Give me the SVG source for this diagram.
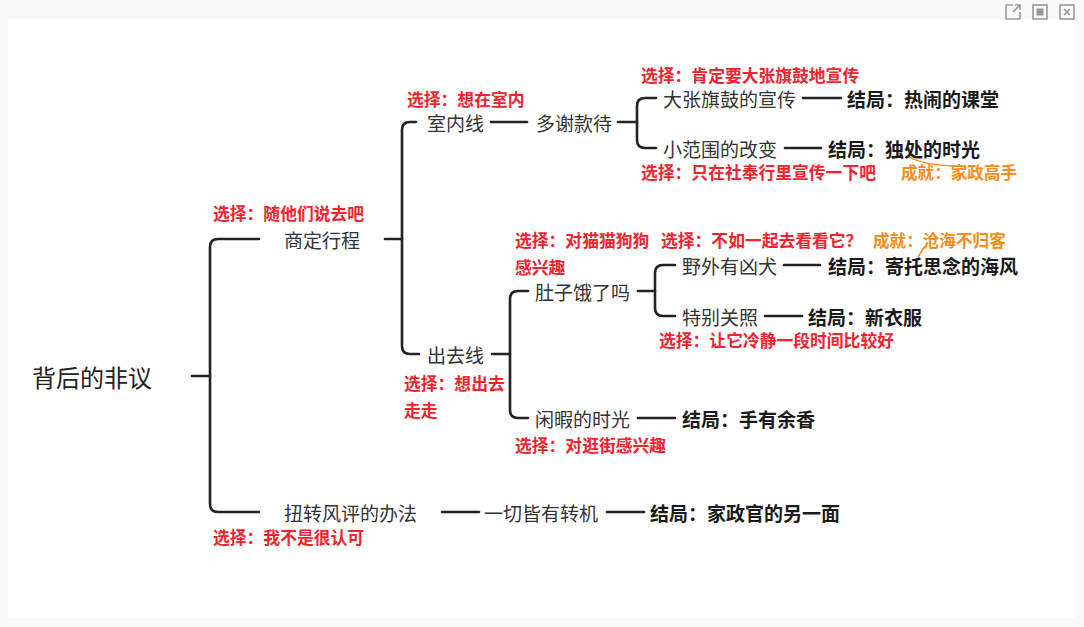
<svg xmlns="http://www.w3.org/2000/svg" width="1084" height="627" viewBox="0 0 1084 627">
<style>
text{font-family:"Noto Sans CJK SC","Noto Sans",sans-serif;dominant-baseline:central}
.n{font-size:19px;fill:#333}
.r{font-size:19px;fill:#1a1a1a;font-weight:bold}
.c{font-size:16.8px;fill:#f5222d;font-weight:bold}
.a{font-size:16.6px;fill:#fa8c16;font-weight:bold}
.l{fill:none;stroke:#222;stroke-width:2.6;stroke-linecap:round}
.o{fill:none;stroke:#fa8c16;stroke-width:1.5}
.ic{fill:none;stroke:#999;stroke-width:1.6}
</style>
<rect width="1084" height="627" fill="#f9f9f9"/>
<rect x="8" y="19" width="1067" height="599" fill="#fff"/>
<g id="toolbar">
<path class="ic" d="M1013,5H1006V19H1020V12M1013,12L1020,5M1015,5H1020V10"/>
<rect class="ic" x="1033" y="5" width="14" height="14"/>
<rect x="1036.5" y="8.5" width="7" height="7" fill="#999"/>
<rect class="ic" x="1060" y="5" width="14" height="14"/>
<path class="ic" d="M1064,9L1070,15M1070,9L1064,15"/>
</g>
<g id="connectors">
<path class="l" d="M192,376H210"/>
<path class="l" d="M259,239H218Q210,239 210,247V504Q210,512 218,512H259"/>
<path class="l" d="M385,239H402"/>
<path class="l" d="M416,122H410Q402,122 402,130V346Q402,354 410,354H419"/>
<path class="l" d="M491,122H527"/>
<path class="l" d="M618,122H637"/>
<path class="l" d="M656,98H645Q637,98 637,106V140Q637,148 645,148H656"/>
<path class="l" d="M803,98H841"/>
<path class="l" d="M785,148H821"/>
<path class="l" d="M492,354H510"/>
<path class="l" d="M528,291H518Q510,291 510,299V410Q510,418 518,418H528"/>
<path class="l" d="M638,291H655"/>
<path class="l" d="M675,265H663Q655,265 655,273V308Q655,316 663,316H675"/>
<path class="l" d="M784,265H820"/>
<path class="l" d="M765,316H802"/>
<path class="l" d="M638,418H675"/>
<path class="l" d="M442,512H479"/>
<path class="l" d="M607,512H644"/>
<path class="o" d="M907,155Q918,164 952,166"/>
<path class="o" d="M925,246L918,257"/>
</g>
<g id="root"><text x="32" y="376" style="font-size:24px;fill:#222">背后的非议</text></g>
<g id="n-shangding"><text class="n" x="284" y="239">商定行程</text><text class="c" x="213" y="213">选择：随他们说去吧</text></g>
<g id="n-shinei"><text class="n" x="427" y="122">室内线</text><text class="c" x="407" y="99">选择：想在室内</text></g>
<g id="n-duoxie"><text class="n" x="536" y="122">多谢款待</text></g>
<g id="n-dazhang"><text class="n" x="663" y="98">大张旗鼓的宣传</text><text class="c" x="641" y="75">选择：肯定要大张旗鼓地宣传</text></g>
<g id="e-renao"><text class="r" x="847" y="98">结局：热闹的课堂</text></g>
<g id="n-xiaofanwei"><text class="n" x="663" y="148">小范围的改变</text><text class="c" x="641" y="172">选择：只在社奉行里宣传一下吧</text></g>
<g id="e-duchu"><text class="r" x="828" y="148">结局：独处的时光</text><text class="a" x="901" y="172">成就：家政高手</text></g>
<g id="n-chuqu"><text class="n" x="427" y="354">出去线</text><text class="c" x="404" y="383">选择：想出去</text><text class="c" x="404" y="410">走走</text></g>
<g id="n-duzi"><text class="n" x="535" y="291">肚子饿了吗</text><text class="c" x="515" y="240">选择：对猫猫狗狗</text><text class="c" x="515" y="267">感兴趣</text></g>
<g id="n-yewai"><text class="n" x="682" y="265">野外有凶犬</text><text class="c" x="661" y="240">选择：不如一起去看看它？</text></g>
<g id="e-haifeng"><text class="r" x="828" y="265">结局：寄托思念的海风</text><text class="a" x="873" y="240">成就：沧海不归客</text></g>
<g id="n-tebie"><text class="n" x="682" y="316">特别关照</text><text class="c" x="659" y="340">选择：让它冷静一段时间比较好</text></g>
<g id="e-xinyifu"><text class="r" x="808" y="316">结局：新衣服</text></g>
<g id="n-xianxia"><text class="n" x="535" y="418">闲暇的时光</text><text class="c" x="515" y="445">选择：对逛街感兴趣</text></g>
<g id="e-yuxiang"><text class="r" x="682" y="418">结局：手有余香</text></g>
<g id="n-niuzhuan"><text class="n" x="284" y="512">扭转风评的办法</text><text class="c" x="213" y="537">选择：我不是很认可</text></g>
<g id="n-yiqie"><text class="n" x="484" y="512">一切皆有转机</text></g>
<g id="e-lingyimian"><text class="r" x="650" y="512">结局：家政官的另一面</text></g>
</svg>
